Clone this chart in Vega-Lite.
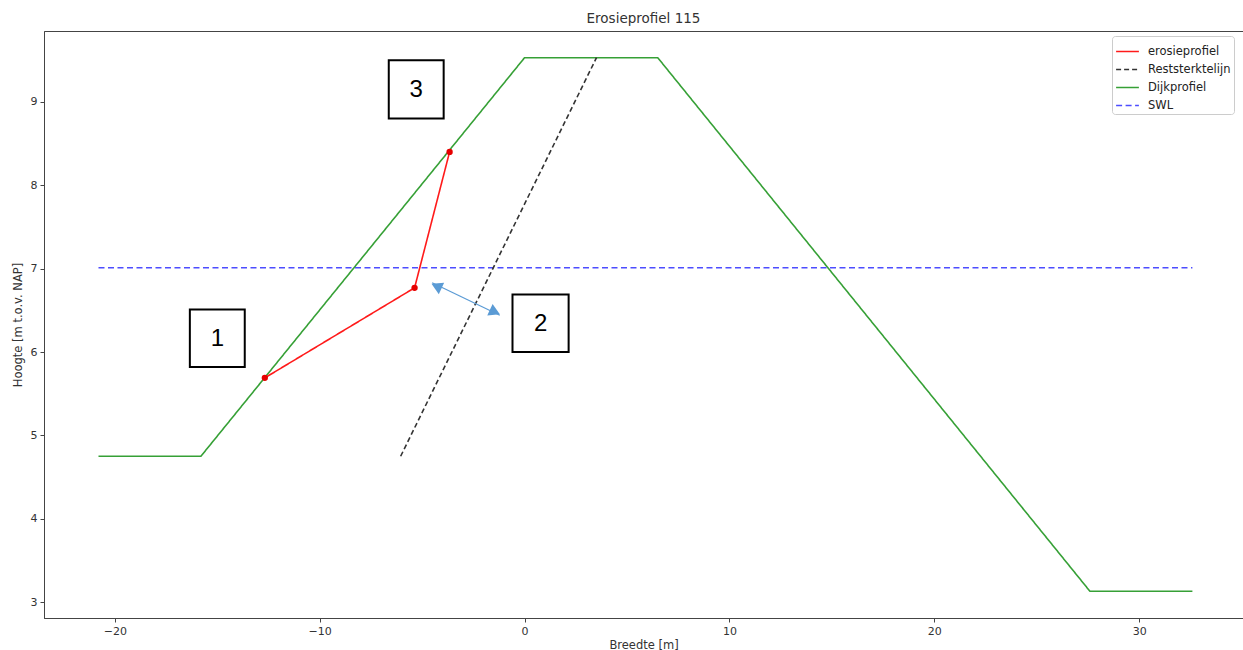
{
  "$schema": "https://vega.github.io/schema/vega-lite/v6.json",
  "width": 1199,
  "height": 587,
  "autosize": {"type": "none"},
  "padding": {"left": 44, "top": 31, "right": 0, "bottom": 32},
  "background": "white",
  "config": {
    "view": {"stroke": "#444", "strokeWidth": 1},
    "font": "DejaVu Sans",
    "axis": {"grid": false, "domainColor": "#444", "tickColor": "#444", "labelColor": "#333", "titleColor": "#333", "labelFont": "DejaVu Sans", "titleFont": "DejaVu Sans", "labelFontSize": 11, "titleFontSize": 11.5, "titleFontWeight": "normal", "tickSize": 4, "labelPadding": 3}
  },
  "title": {"text": "Erosieprofiel 115", "fontSize": 13.5, "fontWeight": "normal", "font": "DejaVu Sans", "color": "#333", "offset": 6, "anchor": "middle"},
  "datasets": {
    "lines": [
      {"series": "Dijkprofiel", "order": 1, "x": -20.8, "y": 4.75},
      {"series": "Dijkprofiel", "order": 2, "x": -15.8, "y": 4.75},
      {"series": "Dijkprofiel", "order": 3, "x": 0, "y": 9.53},
      {"series": "Dijkprofiel", "order": 4, "x": 6.5, "y": 9.53},
      {"series": "Dijkprofiel", "order": 5, "x": 27.6, "y": 3.13},
      {"series": "Dijkprofiel", "order": 6, "x": 32.6, "y": 3.13},
      {"series": "SWL", "order": 1, "x": -20.8, "y": 7.01},
      {"series": "SWL", "order": 2, "x": 32.6, "y": 7.01},
      {"series": "Reststerktelijn", "order": 1, "x": -6.05, "y": 4.75},
      {"series": "Reststerktelijn", "order": 2, "x": 3.51, "y": 9.53},
      {"series": "erosieprofiel", "order": 1, "x": -12.68, "y": 5.69},
      {"series": "erosieprofiel", "order": 2, "x": -5.37, "y": 6.77},
      {"series": "erosieprofiel", "order": 3, "x": -3.66, "y": 8.4}
    ],
    "boxes": [
      {"label": "1", "x1": -16.34, "x2": -13.66, "y1": 5.82, "y2": 6.51, "xc": -15.0, "yc": 6.165},
      {"label": "2", "x1": -0.59, "x2": 2.15, "y1": 6.0, "y2": 6.69, "xc": 0.78, "yc": 6.345},
      {"label": "3", "x1": -6.63, "x2": -3.95, "y1": 8.8, "y2": 9.5, "xc": -5.29, "yc": 9.15}
    ],
    "arrow": [
      {"end": "a", "x": -4.51, "y": 6.83},
      {"end": "b", "x": -1.21, "y": 6.44}
    ],
    "heads": [
      {"shape": "triangle-left", "x": -4.3, "y": 6.79},
      {"shape": "triangle-right", "x": -1.45, "y": 6.48}
    ]
  },
  "layer": [
    {
      "data": {"name": "lines"},
      "mark": {"type": "line", "strokeWidth": 1.6},
      "encoding": {
        "x": {"field": "x", "type": "quantitative", "scale": {"domain": [-23.46, 35.07], "nice": false, "zero": false}, "axis": {"values": [-20, -10, 0, 10, 20, 30], "title": "Breedte [m]", "titlePadding": 3}},
        "y": {"field": "y", "type": "quantitative", "scale": {"domain": [2.81, 9.85], "nice": false, "zero": false}, "axis": {"values": [3, 4, 5, 6, 7, 8, 9], "format": "d", "title": "Hoogte [m t.o.v. NAP]", "titlePadding": 7}},
        "order": {"field": "order", "type": "quantitative"},
        "color": {"field": "series", "type": "nominal", "scale": {"domain": ["erosieprofiel", "Reststerktelijn", "Dijkprofiel", "SWL"], "range": ["#ff1a1a", "#333333", "#36a036", "#4d4dff"]}, "legend": {"title": null, "orient": "none", "legendX": 1068, "legendY": 5, "symbolType": "stroke", "symbolSize": 520, "symbolStrokeWidth": 1.6, "labelFontSize": 11.5, "labelColor": "#222", "labelFont": "DejaVu Sans", "rowPadding": -4, "padding": 3, "strokeColor": "#ccc", "fillColor": "white", "cornerRadius": 3, "labelOffset": 8}},
        "strokeDash": {"field": "series", "type": "nominal", "scale": {"domain": ["erosieprofiel", "Reststerktelijn", "Dijkprofiel", "SWL"], "range": [[1, 0], [5, 3], [1, 0], [6, 3.5]]}, "legend": {"title": null, "orient": "none", "legendX": 1068, "legendY": 5, "symbolType": "stroke", "symbolSize": 520, "symbolStrokeWidth": 1.6, "labelFontSize": 11.5, "labelColor": "#222", "labelFont": "DejaVu Sans", "rowPadding": -4, "padding": 3, "strokeColor": "#ccc", "fillColor": "white", "cornerRadius": 3, "labelOffset": 8}}
      }
    },
    {
      "data": {"name": "lines"},
      "transform": [{"filter": "datum.series === 'erosieprofiel'"}],
      "mark": {"type": "point", "filled": true, "color": "#e60000", "size": 40, "opacity": 1},
      "encoding": {
        "x": {"field": "x", "type": "quantitative"},
        "y": {"field": "y", "type": "quantitative"}
      }
    },
    {
      "data": {"name": "boxes"},
      "mark": {"type": "rect", "fill": "white", "stroke": "black", "strokeWidth": 2},
      "encoding": {
        "x": {"field": "x1", "type": "quantitative"},
        "x2": {"field": "x2"},
        "y": {"field": "y1", "type": "quantitative"},
        "y2": {"field": "y2"}
      }
    },
    {
      "data": {"name": "boxes"},
      "mark": {"type": "text", "font": "Liberation Sans", "fontSize": 24, "color": "black", "baseline": "middle", "align": "center", "dy": 1},
      "encoding": {
        "x": {"field": "xc", "type": "quantitative"},
        "y": {"field": "yc", "type": "quantitative"},
        "text": {"field": "label"}
      }
    },
    {
      "data": {"name": "arrow"},
      "mark": {"type": "line", "color": "#5b9bd5", "strokeWidth": 1.2},
      "encoding": {
        "x": {"field": "x", "type": "quantitative"},
        "y": {"field": "y", "type": "quantitative"}
      }
    },
    {
      "data": {"name": "heads"},
      "mark": {"type": "point", "filled": true, "color": "#5b9bd5", "opacity": 1, "size": 160, "angle": 25},
      "encoding": {
        "x": {"field": "x", "type": "quantitative"},
        "y": {"field": "y", "type": "quantitative"},
        "shape": {"field": "shape", "type": "nominal", "scale": null, "legend": null}
      }
    }
  ]
}
